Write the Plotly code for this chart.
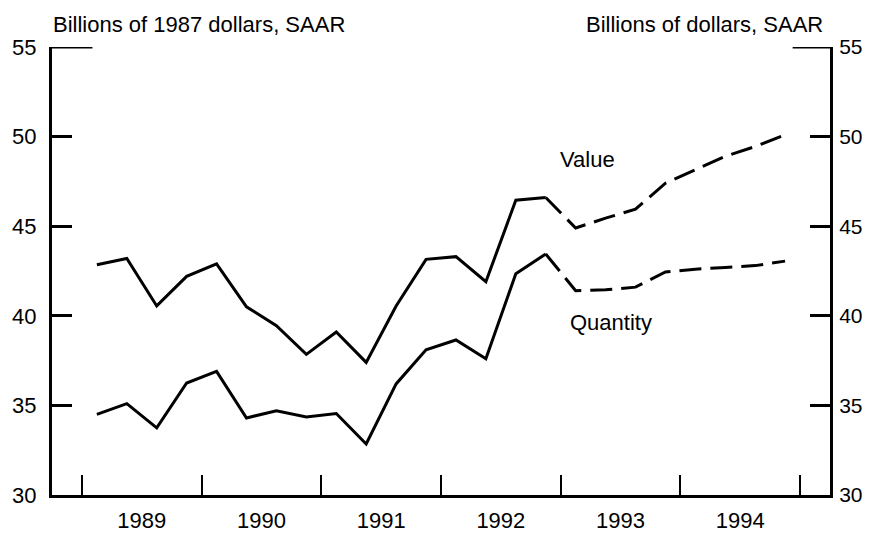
import plotly.graph_objects as go

# Quarterly data, 1989Q1 .. 1994Q4 (forecast from 1993Q1)
quarters = [f"{y}Q{q}" for y in range(1989, 1995) for q in range(1, 5)]
value = [42.85, 43.2, 40.55, 42.2, 42.9, 40.5, 39.45, 37.85, 39.1, 37.4, 40.55, 43.15,
         43.3, 41.9, 46.45, 46.6, 44.9, 45.45, 45.95, 47.4, 48.15, 48.9, 49.45, 50.1]
quantity = [34.5, 35.1, 33.75, 36.25, 36.9, 34.3, 34.7, 34.35, 34.55, 32.85, 36.2, 38.1,
            38.65, 37.6, 42.35, 43.45, 41.4, 41.45, 41.6, 42.45, 42.6, 42.7, 42.8, 43.05]
n_actual = 16  # 1989Q1..1992Q4 actual
year_labels = ["1989", "1990", "1991", "1992", "1993", "1994"]
y_ticks = [30, 35, 40, 45, 50, 55]

def qx(label):
    y, q = label.split("Q")
    return int(y) + (int(q) - 0.5) / 4

xs = [qx(q) for q in quarters]
FONT = "Liberation Sans, Arial, sans-serif"
LW = 3
FS = 22

fig = go.Figure()
for series in (value, quantity):
    fig.add_trace(go.Scatter(x=xs[:n_actual], y=series[:n_actual], mode="lines",
                             line=dict(color="black", width=LW), showlegend=False,
                             hoverinfo="skip"))
    fig.add_trace(go.Scatter(x=xs[n_actual - 1:], y=series[n_actual - 1:], mode="lines",
                             line=dict(color="black", width=LW, dash="22px,9px"),
                             showlegend=False, hoverinfo="skip"))
# dummy trace for right axis
fig.add_trace(go.Scatter(x=[xs[0]], y=[value[0]], yaxis="y2", mode="lines",
                         line=dict(width=0), showlegend=False, hoverinfo="skip"))

year_centers = [int(y) + 0.5 for y in year_labels]
year_bounds = [int(year_labels[0]) + i for i in range(len(year_labels) + 1)]

# the page adds an 8px body margin, so the figure is sized to fit inside it
fig.update_layout(
    width=866, height=526,
    margin=dict(l=44, r=44, t=39, b=39),
    paper_bgcolor="white", plot_bgcolor="white",
    font=dict(family=FONT, size=FS, color="black"),
    xaxis=dict(range=[1988.75, 1995.25], tickmode="array", tickvals=year_centers,
               ticktext=year_labels, ticks="", showgrid=False, zeroline=False,
               showline=True, linecolor="black", linewidth=LW, automargin=False,
               ticklabelstandoff=4,
               minor=dict(tickmode="array", tickvals=year_bounds, ticks="inside",
                          ticklen=20, tickwidth=2, tickcolor="black", showgrid=False)),
    yaxis=dict(range=[30, 55], tickmode="array", tickvals=y_ticks, ticks="inside",
               ticklen=20, tickwidth=LW, tickcolor="black", showgrid=False,
               zeroline=False, showline=True, linecolor="black", linewidth=LW,
               automargin=False, ticklabelstandoff=8),
    yaxis2=dict(range=[30, 55], tickmode="array", tickvals=y_ticks, ticks="inside",
                ticklen=20, tickwidth=LW, tickcolor="black", showgrid=False,
                zeroline=False, showline=True, linecolor="black", linewidth=LW,
                automargin=False, overlaying="y", side="right", ticklabelstandoff=2,
                tickfont=dict(size=21)),
)

# longer top ticks at 55
fig.add_shape(type="line", xref="x domain", yref="y", x0=0, x1=0.052, y0=55, y1=55,
              line=dict(color="black", width=LW))
fig.add_shape(type="line", xref="x domain", yref="y", x0=0.952, x1=1, y0=55, y1=55,
              line=dict(color="black", width=LW))

fig.add_annotation(text="Billions of 1987 dollars, SAAR", xref="paper", yref="paper",
                   x=0, y=1, xanchor="left", yanchor="bottom", yshift=8, xshift=-1,
                   showarrow=False, font=dict(size=FS))
fig.add_annotation(text="Billions of dollars, SAAR", xref="paper", yref="paper",
                   x=1, y=1, xanchor="right", yanchor="bottom", yshift=8, xshift=-5,
                   showarrow=False, font=dict(size=FS))
fig.add_annotation(text="Value", x=1993.22, y=48.75, showarrow=False, font=dict(size=FS))
fig.add_annotation(text="Quantity", x=1993.42, y=39.6, showarrow=False, font=dict(size=FS))

fig.write_html("out.html")
